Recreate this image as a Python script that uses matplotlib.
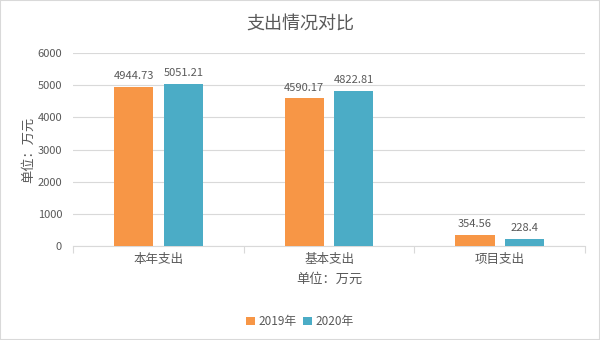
import numpy as np
import matplotlib.pyplot as plt
from matplotlib.patches import Rectangle

plt.rcParams['font.family'] = ['Noto Sans CJK SC', 'DejaVu Sans']

categories = ['本年支出', '基本支出', '项目支出']
series_names = ['2019年', '2020年']
values_2019 = [4944.73, 4590.17, 354.56]
values_2020 = [5051.21, 4822.81, 228.4]
label_2019 = ['4944.73', '4590.17', '354.56']
label_2020 = ['5051.21', '4822.81', '228.4']
yticks = [0, 1000, 2000, 3000, 4000, 5000, 6000]

colors = ['#F79646', '#4BACC6']
text_color = '#595959'


def main():
    fig = plt.figure(figsize=(6, 3.4), dpi=100)
    ax = fig.add_axes([0.122, 0.2765, 0.853, 0.5675])

    x = np.arange(len(categories))
    width = 0.23
    off = 0.145
    b1 = ax.bar(x - off, values_2019, width, color=colors[0], label=series_names[0], zorder=3)
    b2 = ax.bar(x + off, values_2020, width, color=colors[1], label=series_names[1], zorder=3)
    ax.bar_label(b1, labels=label_2019, padding=4, fontsize=8, color=text_color)
    ax.bar_label(b2, labels=label_2020, padding=4, fontsize=8, color=text_color)

    ax.set_xlim(-0.5, len(categories) - 0.5)
    ax.set_ylim(0, 6000)
    ax.set_yticks(yticks)
    ax.set_yticklabels([str(v) for v in yticks], fontsize=8, color=text_color)
    ax.yaxis.grid(True, color='#D9D9D9', linewidth=0.8, zorder=0)
    ax.tick_params(axis='y', length=0, pad=8)

    # category labels, ticks between categories
    ax.set_xticks(x)
    ax.set_xticklabels(categories, fontsize=9, color=text_color)
    ax.tick_params(axis='x', which='major', length=0, pad=5)
    ax.set_xticks(np.arange(len(categories) + 1) - 0.5, minor=True)
    ax.tick_params(axis='x', which='minor', length=5, color='#D9D9D9', width=0.8)

    for s in ['top', 'right', 'left']:
        ax.spines[s].set_visible(False)
    ax.spines['bottom'].set_color('#D9D9D9')
    ax.spines['bottom'].set_linewidth(0.8)

    ax.set_ylabel('单位：万元', fontsize=9.5, color=text_color, labelpad=2)
    ax.set_xlabel('单位：万元', fontsize=9.5, color=text_color, labelpad=5)

    fig.suptitle('支出情况对比', fontsize=13, color=text_color, y=0.955)

    fig.legend(loc='center', bbox_to_anchor=(0.5, 0.055), ncol=2, frameon=False,
               fontsize=8.5, labelcolor=text_color, handlelength=0.7, handleheight=0.7,
               handletextpad=0.3, columnspacing=0.6)

    fig.patches.append(Rectangle((0, 0), 1, 1, transform=fig.transFigure,
                                 fill=False, edgecolor='#D9D9D9', linewidth=1.5))

    fig.savefig('out.png', dpi=100)


if __name__ == "__main__":
    main()
